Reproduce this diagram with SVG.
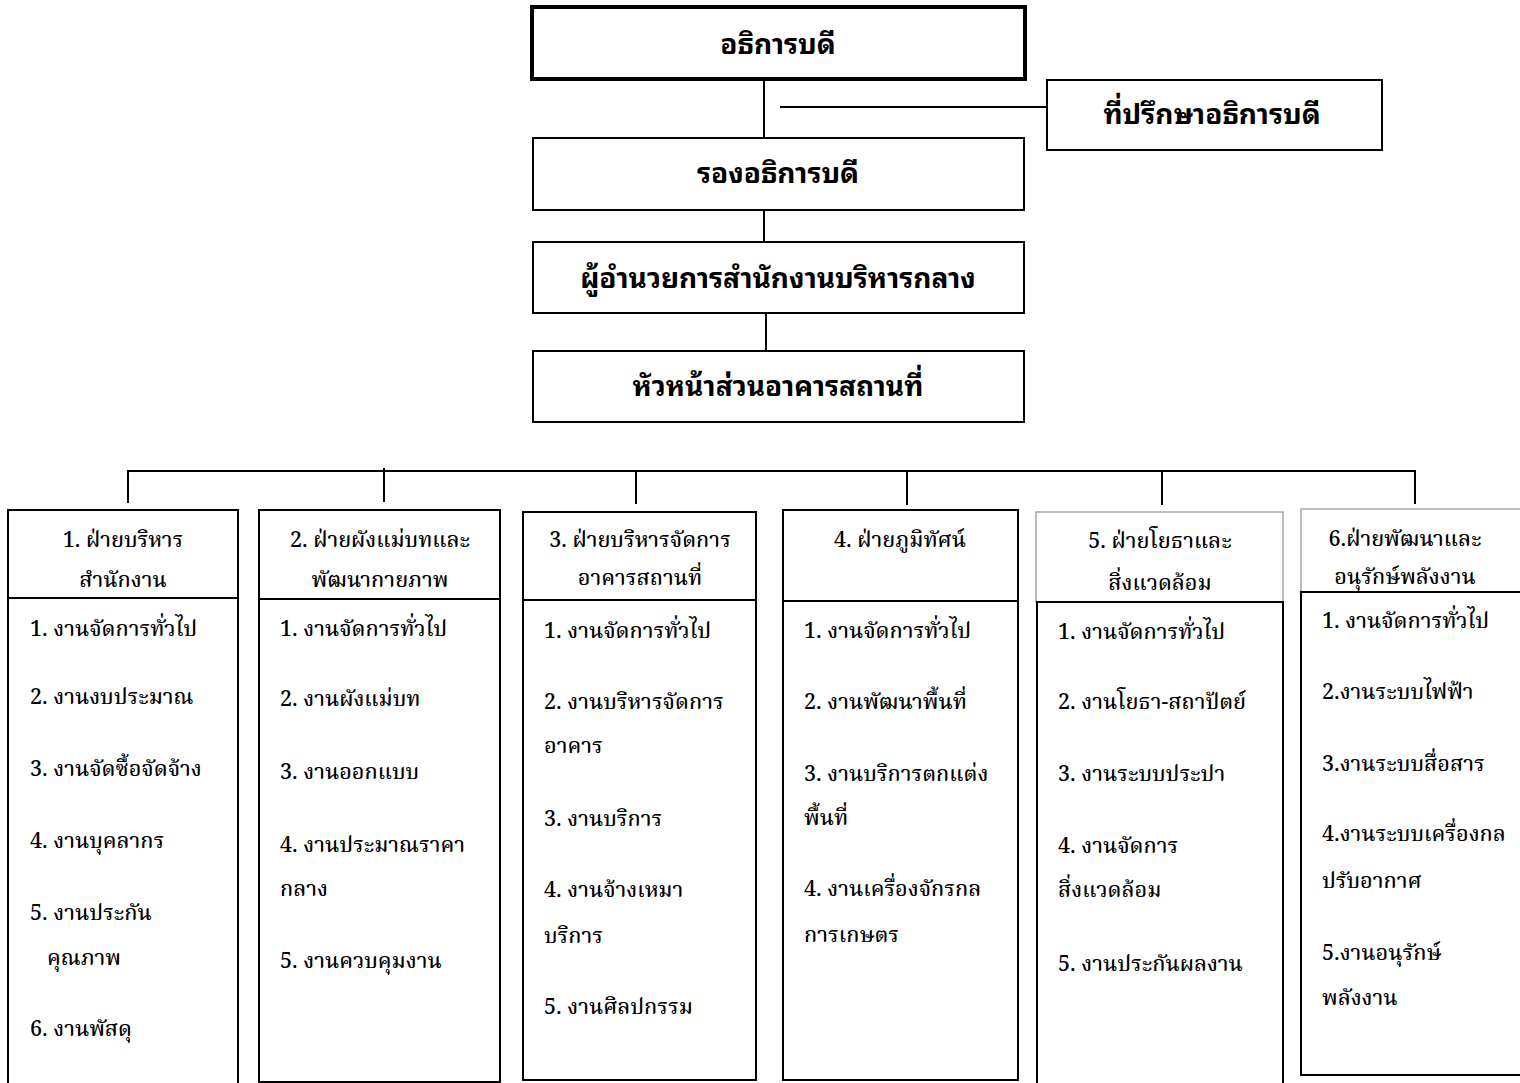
<svg xmlns="http://www.w3.org/2000/svg" width="1520" height="1083" viewBox="0 0 1520 1083">
<style>
.box{fill:#fff;stroke:#000;stroke-width:2}
.thick{fill:#fff;stroke:#000;stroke-width:4}
.grey{fill:#fff;stroke:#9a9a9a;stroke-width:1.3}
.ln{stroke:#000;stroke-width:2;fill:none}
.t1{font-family:"Noto Sans Thai Looped","Loma","Tlwg Typo","Noto Serif Thai","Liberation Sans",sans-serif;font-size:28px;font-weight:bold;text-anchor:middle;fill:#000}
.h{font-family:"Noto Serif Thai","Norasi","Liberation Serif",serif;font-size:21.5px;font-weight:500;text-anchor:middle;fill:#000}
.i{font-family:"Noto Serif Thai","Norasi","Liberation Serif",serif;font-size:21.5px;font-weight:500;fill:#000}
</style>
<g id="connectors">
<line class="ln" x1="764" y1="79" x2="764" y2="138"/>
<line class="ln" x1="780" y1="107" x2="1047" y2="107"/>
<line class="ln" x1="764" y1="210" x2="764" y2="242"/>
<line class="ln" x1="766" y1="313" x2="766" y2="351"/>
<line class="ln" x1="127" y1="471" x2="1416" y2="471"/>
<line class="ln" x1="128" y1="471" x2="128" y2="503"/>
<line class="ln" x1="384" y1="468" x2="384" y2="502"/>
<line class="ln" x1="636" y1="471" x2="636" y2="504"/>
<line class="ln" x1="907" y1="471" x2="907" y2="505"/>
<line class="ln" x1="1162" y1="471" x2="1162" y2="505"/>
<line class="ln" x1="1415" y1="471" x2="1415" y2="504"/>
</g>
<g id="n-president">
<rect class="thick" x="532" y="7" width="493" height="72"/>
<text class="t1" x="778" y="54">อธิการบดี</text>
</g>
<g id="n-advisor">
<rect class="box" x="1047" y="80" width="335" height="70"/>
<text class="t1" x="1212" y="124">ที่ปรึกษาอธิการบดี</text>
</g>
<g id="n-vp">
<rect class="box" x="533" y="138" width="491" height="72"/>
<text class="t1" x="778" y="183">รองอธิการบดี</text>
</g>
<g id="n-director">
<rect class="box" x="533" y="242" width="491" height="71"/>
<text class="t1" x="778" y="288">ผู้อำนวยการสำนักงานบริหารกลาง</text>
</g>
<g id="n-head">
<rect class="box" x="533" y="351" width="491" height="71"/>
<text class="t1" x="778" y="396">หัวหน้าส่วนอาคารสถานที่</text>
</g>
<g id="n-div1">
<rect class="box" x="8" y="510" width="230" height="590"/>
<line class="ln" x1="8" y1="598" x2="238" y2="598"/>
<text class="h" x="123" y="547">1. ฝ่ายบริหาร</text>
<text class="h" x="123" y="587">สำนักงาน</text>
<text class="i" x="30" y="636">1. งานจัดการทั่วไป</text>
<text class="i" x="30" y="704">2. งานงบประมาณ</text>
<text class="i" x="30" y="776">3. งานจัดซื้อจัดจ้าง</text>
<text class="i" x="30" y="848">4. งานบุคลากร</text>
<text class="i" x="30" y="920">5. งานประกัน</text>
<text class="i" x="47" y="965">คุณภาพ</text>
<text class="i" x="30" y="1036">6. งานพัสดุ</text>
</g>
<g id="n-div2">
<rect class="box" x="259" y="510" width="241" height="572"/>
<line class="ln" x1="259" y1="599" x2="500" y2="599"/>
<text class="h" x="380" y="547">2. ฝ่ายผังแม่บทและ</text>
<text class="h" x="380" y="587">พัฒนากายภาพ</text>
<text class="i" x="280" y="636">1. งานจัดการทั่วไป</text>
<text class="i" x="280" y="706">2. งานผังแม่บท</text>
<text class="i" x="280" y="779">3. งานออกแบบ</text>
<text class="i" x="280" y="852">4. งานประมาณราคา</text>
<text class="i" x="280" y="896">กลาง</text>
<text class="i" x="280" y="968">5. งานควบคุมงาน</text>
</g>
<g id="n-div3">
<rect class="box" x="523" y="512" width="233" height="568"/>
<line class="ln" x1="523" y1="600" x2="756" y2="600"/>
<text class="h" x="640" y="547">3. ฝ่ายบริหารจัดการ</text>
<text class="h" x="640" y="585">อาคารสถานที่</text>
<text class="i" x="544" y="638">1. งานจัดการทั่วไป</text>
<text class="i" x="544" y="709">2. งานบริหารจัดการ</text>
<text class="i" x="544" y="753">อาคาร</text>
<text class="i" x="544" y="826">3. งานบริการ</text>
<text class="i" x="544" y="897">4. งานจ้างเหมา</text>
<text class="i" x="544" y="943">บริการ</text>
<text class="i" x="544" y="1014">5. งานศิลปกรรม</text>
</g>
<g id="n-div4">
<rect class="box" x="783" y="510" width="235" height="570"/>
<line class="ln" x1="783" y1="601" x2="1018" y2="601"/>
<text class="h" x="900" y="547">4. ฝ่ายภูมิทัศน์</text>
<text class="i" x="804" y="638">1. งานจัดการทั่วไป</text>
<text class="i" x="804" y="709">2. งานพัฒนาพื้นที่</text>
<text class="i" x="804" y="781">3. งานบริการตกแต่ง</text>
<text class="i" x="804" y="825">พื้นที่</text>
<text class="i" x="804" y="896">4. งานเครื่องจักรกล</text>
<text class="i" x="804" y="942">การเกษตร</text>
</g>
<g id="n-div5">
<rect class="grey" x="1036" y="512" width="247" height="90"/>
<rect class="box" x="1037" y="602" width="246" height="500"/>
<text class="h" x="1160" y="548">5. ฝ่ายโยธาและ</text>
<text class="h" x="1160" y="590">สิ่งแวดล้อม</text>
<text class="i" x="1058" y="639">1. งานจัดการทั่วไป</text>
<text class="i" x="1058" y="709">2. งานโยธา-สถาปัตย์</text>
<text class="i" x="1058" y="781">3. งานระบบประปา</text>
<text class="i" x="1058" y="853">4. งานจัดการ</text>
<text class="i" x="1058" y="897">สิ่งแวดล้อม</text>
<text class="i" x="1058" y="971">5. งานประกันผลงาน</text>
</g>
<g id="n-div6">
<rect class="grey" x="1301" y="509" width="230" height="83"/>
<rect class="box" x="1301" y="592" width="230" height="483"/>
<text class="h" x="1405" y="546">6.ฝ่ายพัฒนาและ</text>
<text class="h" x="1405" y="584">อนุรักษ์พลังงาน</text>
<text class="i" x="1322" y="628">1. งานจัดการทั่วไป</text>
<text class="i" x="1322" y="699">2.งานระบบไฟฟ้า</text>
<text class="i" x="1322" y="771">3.งานระบบสื่อสาร</text>
<text class="i" x="1322" y="841">4.งานระบบเครื่องกล</text>
<text class="i" x="1322" y="888">ปรับอากาศ</text>
<text class="i" x="1322" y="960">5.งานอนุรักษ์</text>
<text class="i" x="1322" y="1005">พลังงาน</text>
</g>
</svg>
